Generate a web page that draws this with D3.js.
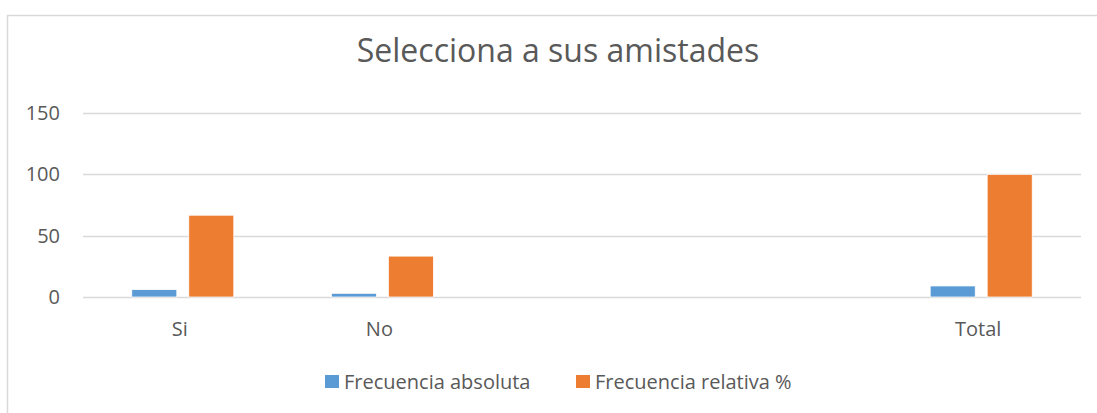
<!DOCTYPE html>
<html>
<head>
<meta charset="utf-8">
<script src="https://cdn.jsdelivr.net/npm/d3@7"></script>
<style>
  body { margin: 0; background: #fff; }
  svg { display: block; font-family: "Open Sans", "Noto Sans", sans-serif; }
</style>
</head>
<body>
<div id="chart"></div>
<script>
// data
var categories = ["Si", "No", "", " ", "Total"];
var absoluta = [6, 3, null, null, 9];
var relativa = [66.67, 33.33, null, null, 100];
var seriesNames = ["Frecuencia absoluta", "Frecuencia relativa %"];
var yTicks = [0, 50, 100, 150];
var colors = ["#5B9BD5", "#ED7D31"];

var width = 1097, height = 413;
var margin = {top: 113, right: 16, bottom: 116, left: 83};

var svg = d3.select("#chart").append("svg")
    .attr("width", width)
    .attr("height", height);

// outer chart frame
svg.append("rect")
    .attr("x", 7.5).attr("y", 15.5)
    .attr("width", width + 10).attr("height", height + 10)
    .attr("fill", "none")
    .attr("stroke", "#d9d9d9")
    .attr("stroke-width", 1.5);

svg.append("text")
    .attr("x", 558).attr("y", 62)
    .attr("text-anchor", "middle")
    .attr("fill", "#595959")
    .style("font-size", "32px")
    .text("Selecciona a sus amistades");

var x = d3.scaleBand()
    .domain(categories)
    .range([margin.left, width - margin.right]);

var x1 = d3.scaleBand()
    .domain([0, 1])
    .range([0, x.bandwidth()])
    .paddingInner(0.21)
    .paddingOuter(0.856);

var y = d3.scaleLinear()
    .domain([0, 150])
    .range([height - margin.bottom, margin.top]);

// gridlines
svg.append("g")
    .selectAll("line")
    .data(yTicks)
    .enter()
    .append("line")
    .attr("x1", margin.left)
    .attr("x2", width - margin.right)
    .attr("y1", function (d) { return Math.round(y(d)) + 0.5; })
    .attr("y2", function (d) { return Math.round(y(d)) + 0.5; })
    .attr("stroke", "#d9d9d9")
    .attr("stroke-width", 1.5);

// y labels
svg.append("g")
    .selectAll("text")
    .data(yTicks)
    .enter()
    .append("text")
    .attr("x", 60)
    .attr("y", function (d) { return y(d); })
    .attr("dy", "0.35em")
    .attr("text-anchor", "end")
    .attr("fill", "#595959")
    .style("font-size", "20px")
    .text(function (d) { return d; });

// x labels
svg.append("g")
    .selectAll("text")
    .data(categories)
    .enter()
    .append("text")
    .attr("x", function (d) { return x(d) + x.bandwidth() / 2 - 3; })
    .attr("y", 336)
    .attr("text-anchor", "middle")
    .attr("fill", "#595959")
    .style("font-size", "20px")
    .text(function (d) { return d.trim(); });

// bars
var series = [absoluta, relativa];
series.forEach(function (vals, s) {
    svg.append("g")
        .selectAll("rect")
        .data(vals.map(function (v, i) { return {cat: categories[i], v: v}; })
            .filter(function (d) { return d.v !== null; }))
        .enter()
        .append("rect")
        .attr("x", function (d) { return x(d.cat) + x1(s); })
        .attr("width", x1.bandwidth())
        .attr("y", function (d) { return y(d.v); })
        .attr("height", function (d) { return y(0) - y(d.v); })
        .attr("fill", colors[s])
        .attr("stroke", "#fff")
        .attr("stroke-width", 0.75);
});

// legend
var legendX = [325, 576];
var legend = svg.append("g")
    .selectAll("g")
    .data(seriesNames)
    .enter()
    .append("g")
    .attr("transform", function (d, i) { return "translate(" + legendX[i] + ",375)"; });

legend.append("rect")
    .attr("width", 14).attr("height", 13)
    .attr("fill", function (d, i) { return colors[i]; });

legend.append("text")
    .attr("x", 19).attr("y", 13.5)
    .attr("fill", "#595959")
    .style("font-size", "20px")
    .text(function (d) { return d; });
</script>
</body>
</html>
